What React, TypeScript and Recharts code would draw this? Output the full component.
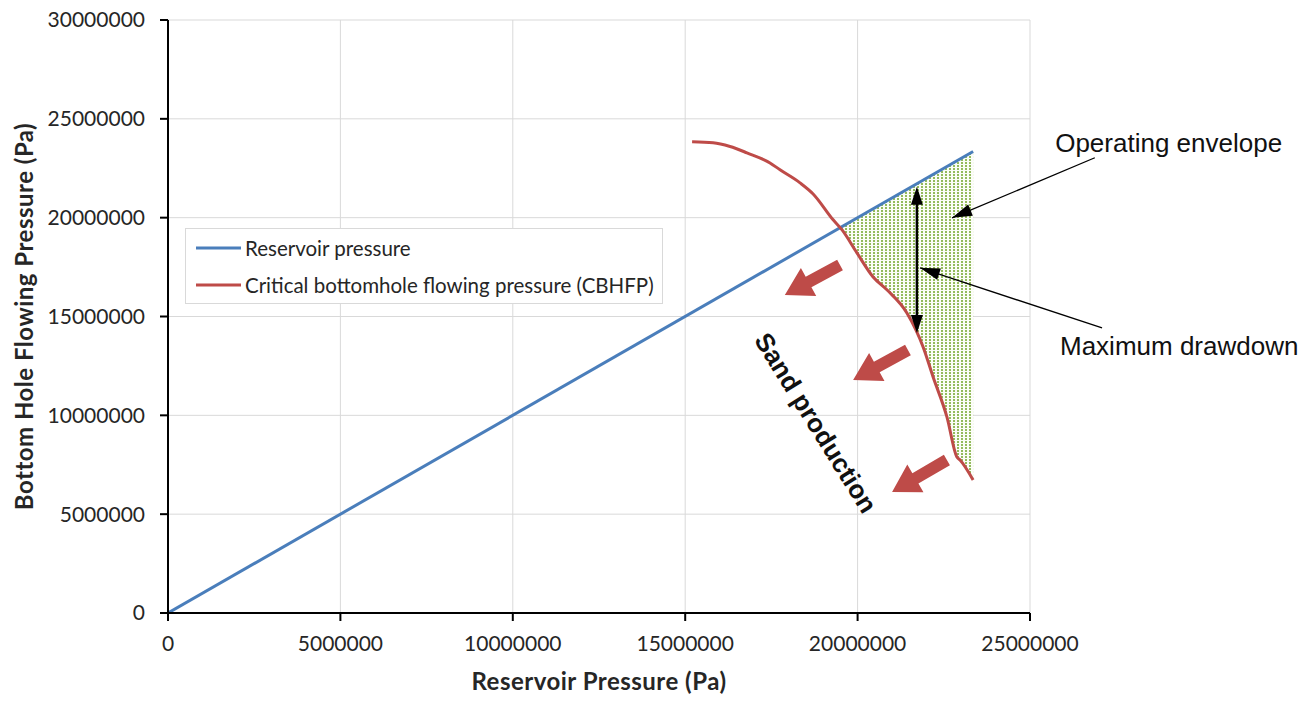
import React from 'react';
import { ComposedChart, Line, Area, XAxis, YAxis, CartesianGrid, Legend, ReferenceLine, ReferenceDot } from 'recharts';

// axis ticks
const xTicks = [0, 5000000, 10000000, 15000000, 20000000, 25000000];
const yTicks = [0, 5000000, 10000000, 15000000, 20000000, 25000000, 30000000];

// reservoir pressure line (BHFP = reservoir pressure)
const reservoirX = [0, 23350000];
const reservoirY = [0, 23350000];

// critical bottomhole flowing pressure curve
const cbhfpX = [15200000, 15810000, 16300000, 16790000, 17460000, 17750000, 18330000, 18710000, 19290000, 19550000, 19980000, 20450000, 20850000, 21430000, 21900000, 22190000, 22590000, 22880000, 22970000, 23350000];
const cbhfpY = [23840000, 23790000, 23600000, 23280000, 22770000, 22420000, 21760000, 21200000, 19890000, 19380000, 18220000, 17000000, 16350000, 15180000, 13460000, 11940000, 9920000, 7890000, 7740000, 6730000];

// operating envelope: between CBHFP (low) and reservoir pressure (high)
const envX = [19490000, 19550000, 19980000, 20450000, 20850000, 21430000, 21900000, 22190000, 22590000, 22880000, 22970000, 23350000];
const envLow = [19490000, 19380000, 18220000, 17000000, 16350000, 15180000, 13460000, 11940000, 9920000, 7890000, 7740000, 6730000];
const envHigh = [19490000, 19550000, 19980000, 20450000, 20850000, 21430000, 21900000, 22190000, 22590000, 22880000, 22970000, 23350000];

// annotations (data coordinates)
const sandArrows = [
  [19490000, 17610000, 17890000, 16090000],
  [21460000, 13310000, 19870000, 11790000],
  [22590000, 7740000, 21000000, 6120000],
];
const drawdownArrow = [21720000, 21560000, 21720000, 14170000];
const pointers = [
  { label: 'Operating envelope', from: [26880000, 23030000], to: [22740000, 19990000], text: [25730000, 23330000] },
  { label: 'Maximum drawdown', from: [27090000, 14420000], to: [21810000, 17460000], text: [25870000, 13060000] },
];
const sandLabel = { text: 'Sand production', x: 18790000, y: 9620000 };

const BLUE = '#4a7ebb';
const RED = '#be4b48';
const tickStyle = { fontFamily: 'Lato', fontSize: 21, fill: '#262626' };
const titleStyle = { fontFamily: 'Lato', fontSize: 24, fontWeight: 700, fill: '#262626', letterSpacing: 0.5 };

const reservoirData = reservoirX.map((x, i) => ({ x, y: reservoirY[i] }));
const cbhfpData = cbhfpX.map((x, i) => ({ x, y: cbhfpY[i] }));
const envData = envX.map((x, i) => ({ x, range: [envLow[i], envHigh[i]] }));

const head = (x1: number, y1: number, x2: number, y2: number, len: number, half: number) => {
  const d = Math.hypot(x2 - x1, y2 - y1);
  const ux = (x2 - x1) / d, uy = (y2 - y1) / d;
  const bx = x2 - ux * len, by = y2 - uy * len;
  return `${x2},${y2} ${bx - uy * half},${by + ux * half} ${bx + uy * half},${by - ux * half}`;
};

const BlockArrow = (p: any) => {
  const { x1, y1, x2, y2 } = p;
  const d = Math.hypot(x2 - x1, y2 - y1);
  const ux = (x2 - x1) / d, uy = (y2 - y1) / d;
  const nx = -uy, ny = ux;
  const hl = 27, sw = 6, hw = 16;
  const bx = x2 - ux * hl, by = y2 - uy * hl;
  const pts = [
    [x1 + nx * sw, y1 + ny * sw], [bx + nx * sw, by + ny * sw], [bx + nx * hw, by + ny * hw],
    [x2, y2], [bx - nx * hw, by - ny * hw], [bx - nx * sw, by - ny * sw], [x1 - nx * sw, y1 - ny * sw],
  ].map((q) => q.join(',')).join(' ');
  return <polygon points={pts} fill={RED} />;
};

const DoubleArrow = (p: any) => {
  const { x1, y1, x2, y2 } = p;
  return (
    <g>
      <line x1={x1} y1={y1 + 10} x2={x2} y2={y2 - 10} stroke="#000" strokeWidth={2.5} />
      <polygon points={head(x2, y2, x1, y1, 18, 6)} fill="#000" />
      <polygon points={head(x1, y1, x2, y2, 18, 6)} fill="#000" />
    </g>
  );
};

const Pointer = (p: any) => {
  const { x1, y1, x2, y2 } = p;
  return (
    <g>
      <line x1={x1} y1={y1} x2={x2} y2={y2} stroke="#000" strokeWidth={1.3} />
      <polygon points={head(x1, y1, x2, y2, 20, 6)} fill="#000" />
    </g>
  );
};

const YTitle = (props: any) => {
  const { x, y, height } = props.viewBox;
  const cx = x + 15, cy = y + height / 2;
  return (
    <text x={cx} y={cy} transform={`rotate(-90 ${cx} ${cy})`} textAnchor="middle" dominantBaseline="central" style={titleStyle}>
      Bottom Hole Flowing Pressure (Pa)
    </text>
  );
};

const XTitle = (props: any) => {
  const { x, y, width } = props.viewBox;
  return (
    <text x={x + width / 2} y={y + 67} textAnchor="middle" dominantBaseline="central" style={titleStyle}>
      Reservoir Pressure (Pa)
    </text>
  );
};

const legendItems = [
  { name: 'Reservoir pressure', color: BLUE },
  { name: 'Critical bottomhole flowing pressure (CBHFP)', color: RED },
];

const LegendBox = () => (
  <div style={{ width: 478, boxSizing: 'border-box', border: '1px solid #d9d9d9', background: '#fff', padding: '0 0 0 10px' }}>
    {legendItems.map((it) => (
      <div key={it.name} style={{ height: 37, display: 'flex', alignItems: 'center' }}>
        <svg width={45} height={6} style={{ marginRight: 4 }}>
          <line x1={0} y1={3} x2={45} y2={3} stroke={it.color} strokeWidth={3} />
        </svg>
        <span style={{ fontFamily: 'Lato', fontSize: 20.5, color: '#262626' }}>{it.name}</span>
      </div>
    ))}
  </div>
);

export default function App() {
  return (
    <div>
      <svg width={0} height={0} style={{ position: 'absolute' }}>
        <defs>
          <pattern id="envDots" width={4} height={3} patternUnits="userSpaceOnUse">
            <rect width={4} height={3} fill="#fbfdf7" />
            <rect x={1} y={1} width={2} height={2} fill="#93bb5c" />
          </pattern>
        </defs>
      </svg>
      <ComposedChart width={1299} height={686} margin={{ top: 12, right: 277, bottom: 0, left: 0 }} style={{ overflow: 'visible' }}>
        <CartesianGrid stroke="#d9d9d9" strokeWidth={1} />
        <XAxis type="number" dataKey="x" domain={[0, 25000000]} ticks={xTicks} interval={0}
          height={81} tickSize={8} tickMargin={15} tick={tickStyle}
          axisLine={{ stroke: '#000', strokeWidth: 2 }} tickLine={{ stroke: '#000', strokeWidth: 2 }}
          label={<XTitle />} allowDataOverflow />
        <YAxis type="number" domain={[0, 30000000]} ticks={yTicks} interval={0}
          width={160} tickSize={8} tickMargin={15} tick={tickStyle}
          axisLine={{ stroke: '#000', strokeWidth: 2 }} tickLine={{ stroke: '#000', strokeWidth: 2 }}
          label={<YTitle />} allowDataOverflow />
        <Legend layout="vertical" align="center" verticalAlign="middle" content={<LegendBox />}
          wrapperStyle={{ left: 177, top: 220, width: 478 }} />
        <Area data={envData} dataKey="range" type="monotone" stroke="none" fill="url(#envDots)" fillOpacity={1}
          isAnimationActive={false} legendType="none" />
        <Line data={reservoirData} dataKey="y" name="Reservoir pressure" type="linear" stroke={BLUE} strokeWidth={3}
          dot={false} isAnimationActive={false} />
        <Line data={cbhfpData} dataKey="y" name="Critical bottomhole flowing pressure (CBHFP)" type="monotone" stroke={RED}
          strokeWidth={3} dot={false} isAnimationActive={false} />
        {sandArrows.map((a, i) => (
          <ReferenceLine key={`s${i}`} segment={[{ x: a[0], y: a[1] }, { x: a[2], y: a[3] }]} ifOverflow="visible" shape={BlockArrow} />
        ))}
        <ReferenceLine segment={[{ x: drawdownArrow[0], y: drawdownArrow[1] }, { x: drawdownArrow[2], y: drawdownArrow[3] }]}
          ifOverflow="visible" shape={DoubleArrow} />
        {pointers.map((p) => (
          <ReferenceLine key={p.label} segment={[{ x: p.from[0], y: p.from[1] }, { x: p.to[0], y: p.to[1] }]}
            ifOverflow="visible" shape={Pointer} />
        ))}
        {pointers.map((p) => (
          <ReferenceDot key={`t${p.label}`} x={p.text[0]} y={p.text[1]} r={0} ifOverflow="visible"
            shape={(s: any) => (
              <text x={s.cx} y={s.cy} style={{ fontFamily: 'Liberation Sans', fontSize: 26, fill: '#111' }}>{p.label}</text>
            )} />
        ))}
        <ReferenceDot x={sandLabel.x} y={sandLabel.y} r={0} ifOverflow="visible"
          shape={(s: any) => (
            <text x={s.cx} y={s.cy} transform={`rotate(58 ${s.cx} ${s.cy})`} textAnchor="middle" dominantBaseline="central"
              style={{ fontFamily: 'Liberation Sans', fontSize: 26, fontWeight: 700, fill: '#111' }}>{sandLabel.text}</text>
          )} />
      </ComposedChart>
    </div>
  );
}
